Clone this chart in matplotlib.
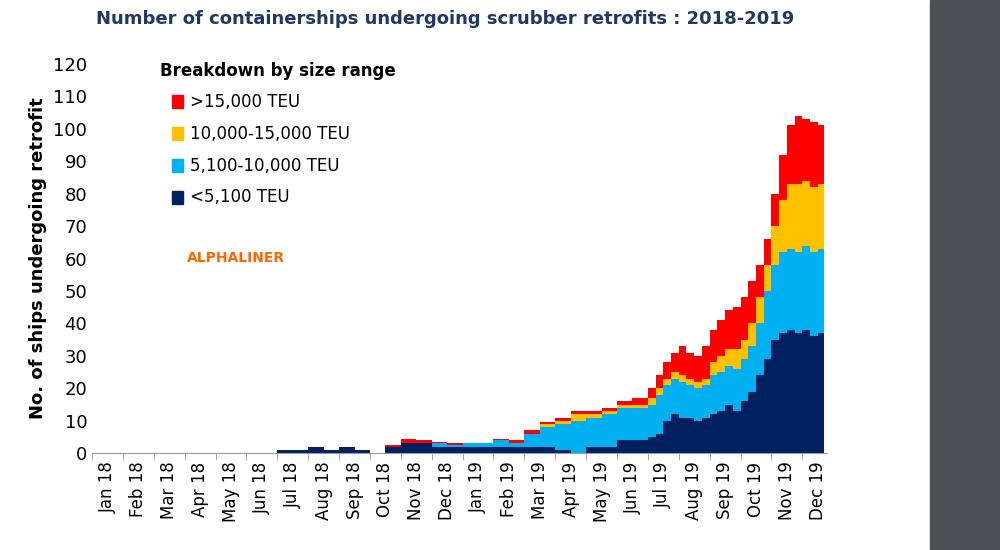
import matplotlib.pyplot as plt
import numpy as np

# cumulative tops: (<5,100, 5,100-10,000, 10,000-15,000, >15,000)
# half-month steps, Jan 2018 - Jun 2019
half = [(0, 0, 0, 0)] * 12 + [
    (1, 1, 1, 1), (1, 1, 1, 1), (2, 2, 2, 2), (1, 1, 1, 1), (2, 2, 2, 2), (1, 1, 1, 1),
    (0, 0, 0, 0), (2, 2, 2, 2.5), (3, 3, 3, 4.5), (3, 3, 3, 4), (2, 3, 3, 3.5), (2, 2.5, 2.5, 3),
    (2, 3, 3, 3), (2, 3, 3, 3), (2, 4, 4, 4.5), (2, 3, 3, 4), (2, 6, 6, 7), (2, 8, 9, 9.5),
    (1, 9, 10, 11), (0, 10, 12, 13), (2, 11, 12, 13), (2, 12, 13, 14), (4, 14, 15, 16), (4, 14, 15, 17),
]
# quarter-month steps, Jul 2019 - Dec 2019
quarter = [
    (5, 15, 17, 20), (6, 18, 20, 24), (10, 21, 23, 28), (12, 23, 25, 31),
    (11, 22, 24, 33), (11, 21, 23, 31), (10, 20, 22, 30), (11, 21, 23, 33),
    (12, 24, 28, 38), (13, 25, 30, 41), (15, 27, 32, 44), (13, 26, 32, 45),
    (16, 29, 35, 48), (19, 33, 40, 53), (24, 40, 48, 58), (29, 50, 58, 66),
    (35, 58, 70, 80), (37, 62, 78, 92), (38, 63, 83, 101), (37, 62, 83, 104),
    (38, 64, 84, 103), (36, 62, 82, 102), (39, 64, 86, 108), (37, 63, 83, 101),
]
tops = np.array(half + quarter + [quarter[-1]], dtype=float)
x = np.concatenate([np.arange(len(half)) * 0.5 - 0.5,
                    17.5 + np.arange(len(quarter) + 1) * 0.25])
x[-2] = 23.0   # data stops a bit before the end of December
x[-1] = 23.2

colors = ['#002060', '#00b0f0', '#ffc000', '#ff0000']
labels = ['<5,100 TEU', '5,100-10,000 TEU', '10,000-15,000 TEU', '>15,000 TEU']
months = ['Jan', 'Feb', 'Mar', 'Apr', 'May', 'Jun', 'Jul', 'Aug', 'Sep', 'Oct', 'Nov', 'Dec']
ticklabels = [f'{m} 18' for m in months] + [f'{m} 19' for m in months]

fig = plt.figure(figsize=(10, 5.5), dpi=100)
fig.patches.append(plt.Rectangle((0.93, 0), 0.07, 1, transform=fig.transFigure,
                                 color='#4b4e52', zorder=0))
ax = fig.add_axes([0.092, 0.176, 0.735, 0.708])

prev = np.zeros(len(x))
for i in range(4):
    ax.fill_between(x, prev, tops[:, i], step='post', color=colors[i], lw=0)
    prev = tops[:, i]

ax.set_xlim(-0.5, 23.3)
ax.set_ylim(0, 120)
ax.set_yticks(range(0, 121, 10))
ax.set_xticks(range(24))
ax.set_xticklabels(ticklabels, rotation=90, fontsize=12)
ax.set_xticks(np.arange(-0.5, 23.5, 1), minor=True)
ax.tick_params(axis='x', which='major', length=0, pad=6)
ax.tick_params(axis='x', which='minor', length=5, color='#999999')
ax.tick_params(axis='y', length=0, labelsize=13)
for s in ['top', 'right', 'left']:
    ax.spines[s].set_visible(False)
ax.spines['bottom'].set_color('#999999')
ax.set_ylabel('No. of ships undergoing retrofit', fontsize=13, fontweight='bold')

fig.text(0.445, 0.965, 'Number of containerships undergoing scrubber retrofits : 2018-2019',
         ha='center', va='center', fontsize=13, fontweight='bold', color='#1f3864')
fig.text(0.16, 0.87, 'Breakdown by size range', fontsize=12, fontweight='bold', va='center')
for i, lab in enumerate(labels[::-1]):
    y = 0.815 - i * 0.058
    fig.patches.append(plt.Rectangle((0.172, y - 0.012), 0.011, 0.024,
                                     transform=fig.transFigure, color=colors[3 - i]))
    fig.text(0.19, y, lab, fontsize=12, va='center')
fig.text(0.187, 0.531, 'ALPHALINER', fontsize=10, fontweight='bold', color='#ff6600', va='center')

fig.savefig('out.png')
